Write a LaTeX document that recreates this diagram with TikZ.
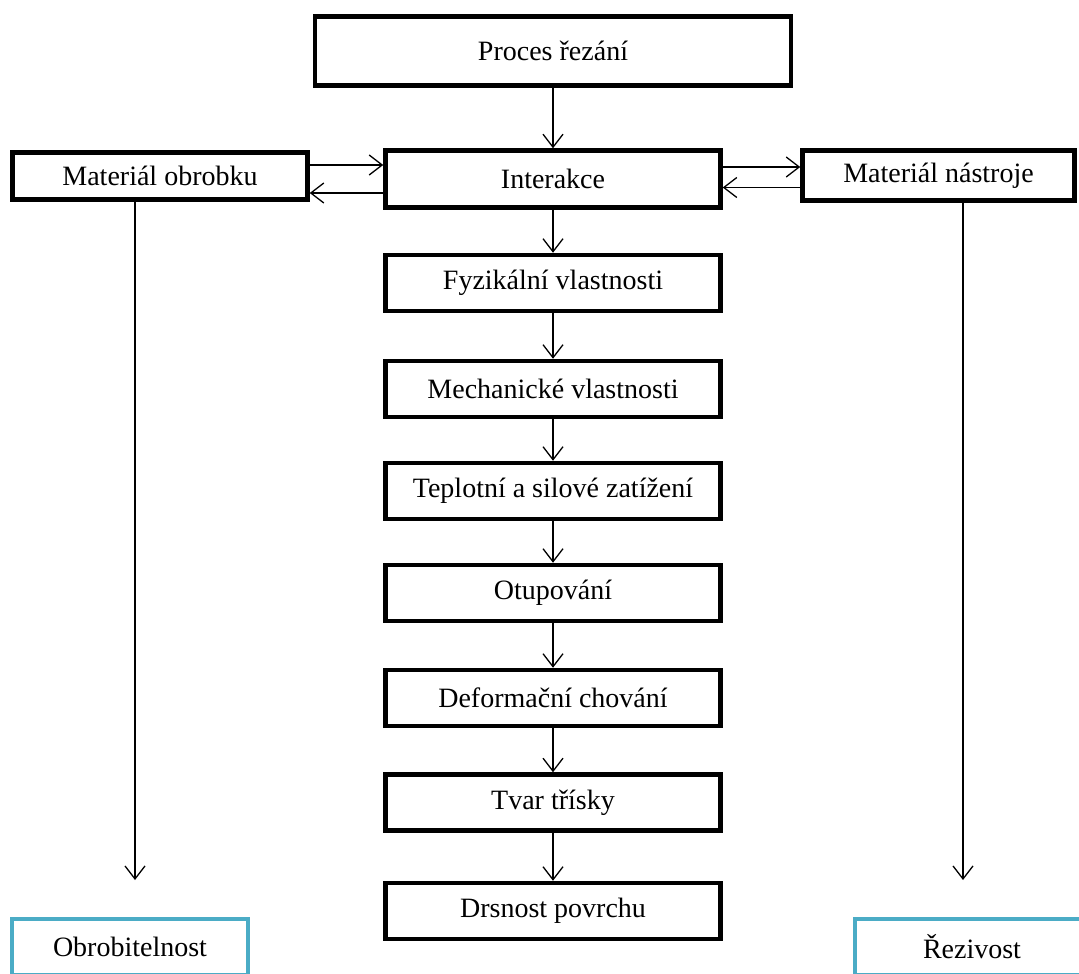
\documentclass[tikz,border=0pt]{standalone}
\usepackage{fontspec}
\setmainfont{Liberation Serif}
\usetikzlibrary{arrows.meta}
\definecolor{aqua}{HTML}{4BACC6}
\begin{document}
\begin{tikzpicture}[x=1pt, y=-1pt, >={Straight Barb[length=13pt,width=20pt]}]
        \tikzstyle{box}=[rectangle, draw=black, line width=4.5pt, fill=white, minimum width=335pt, minimum height=56pt, inner sep=0pt, font=\fontsize{28}{32}\selectfont]
        \tikzstyle{result}=[box, draw=aqua, line width=4pt]
        \tikzstyle{link}=[->, line width=1.3pt]

        \useasboundingbox (0,0) rectangle (1079,974);
        \clip (0,0) rectangle (1079,974);

        % Nodes
        \node[box, minimum width=476pt, minimum height=69pt] (proc) at (553,51) {Proces řezání};
        \node[box, minimum height=57pt] (inter) at (553,179) {Interakce};
        \node[box, minimum width=295pt, minimum height=47pt] (obr) at (160,176) {Materiál obrobku};
        \node[box, minimum width=272pt, minimum height=50pt] (nas) at (938.5,175.5) {Materiál nástroje};
        \node[box] (fyz) at (553,283) {Fyzikální vlastnosti};
        \node[box] (mech) at (553,389) {Mechanické vlastnosti};
        \node[box] (tepl) at (553,491) {Teplotní a silové zatížení};
        \node[box] (otup) at (553,593) {Otupování};
        \node[box] (def) at (553,698) {Deformační chování};
        \node[box] (tvar) at (553,802.5) {Tvar třísky};
        \node[box] (drs) at (553,911) {Drsnost povrchu};
        \node[result, minimum width=236pt] (obrob) at (130,947) {Obrobitelnost};
        \node[result, minimum width=234pt] (rez) at (972,947) {Řezivost};

        % Free ends of the side arrows
        \coordinate (obrEnd) at (135,880);
        \coordinate (nasEnd) at (963,880);

        % Main column
        \draw[link] (proc) -- (inter);
        \draw[link] (inter) -- (fyz);
        \draw[link] (fyz) -- (mech);
        \draw[link] (mech) -- (tepl);
        \draw[link] (tepl) -- (otup);
        \draw[link] (otup) -- (def);
        \draw[link] (def) -- (tvar);
        \draw[link] (tvar) -- (drs);

        % Materials <-> interaction
        \draw[link] ([yshift=11pt]obr.east) coordinate (a) -- (a -| inter.west);
        \draw[link] ([yshift=-14pt]inter.west) coordinate (b) -- (b -| obr.east);
        \draw[link] ([yshift=12pt]inter.east) coordinate (c) -- (c -| nas.west);
        \draw[link] ([yshift=-12pt]nas.west) coordinate (d) -- (d -| inter.east);

        % Side outputs
        \draw[link] (obrEnd |- obr.south) -- (obrEnd);
        \draw[link] (nasEnd |- nas.south) -- (nasEnd);
        \end{tikzpicture}
\end{document}
